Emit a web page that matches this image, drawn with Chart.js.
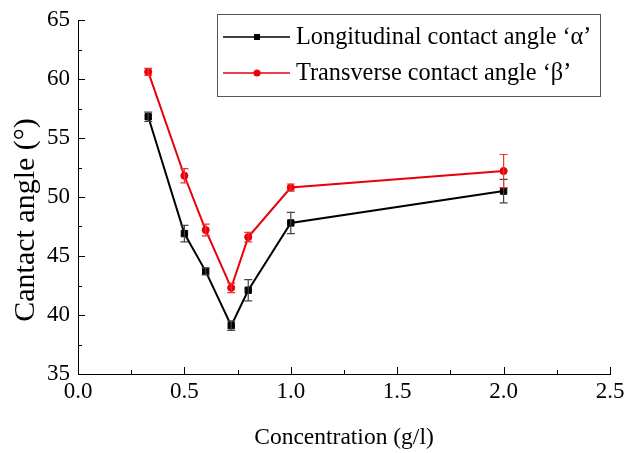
<!DOCTYPE html>
<html>
<head>
<meta charset="utf-8">
<script src="https://cdn.jsdelivr.net/npm/chart.js@4"></script>
<style>
  body { margin: 0; background: #fff; }
  #wrap { width: 624px; height: 453px; }
</style>
</head>
<body>
<div id="wrap"><canvas id="angleChart" width="624" height="453"></canvas></div>
<script>
// data
const concentration = [0.33, 0.5, 0.6, 0.72, 0.8, 1.0, 2.0];
const alphaAngle = [56.8, 46.9, 43.7, 39.1, 42.1, 47.8, 50.5];
const alphaErr = [0.4, 0.7, 0.3, 0.4, 0.9, 0.9, 1.0];
const betaAngle = [60.6, 51.8, 47.2, 42.3, 46.6, 50.8, 52.2];
const betaErr = [0.3, 0.6, 0.5, 0.4, 0.4, 0.3, 1.4];
const xTicks = [0, 0.5, 1.0, 1.5, 2.0, 2.5];
const yTicks = [35, 40, 45, 50, 55, 60, 65];
const yTitle = "Cantact angle (\u00b0)";

const serif = "'Liberation Serif', 'Times New Roman', serif";

function toPoints(xs, ys, errs) {
  return xs.map((x, i) => ({ x: x, y: ys[i], err: errs[i] }));
}

// error bars drawn from the data through the scales
const errorBars = {
  id: "errorBars",
  afterDatasetsDraw(chart) {
    const ctx = chart.ctx;
    const xs = chart.scales.x;
    const ys = chart.scales.y;
    chart.data.datasets.forEach((ds) => {
      ctx.save();
      ctx.strokeStyle = ds.errColor;
      ctx.lineWidth = 1.2;
      ds.data.forEach((p) => {
        const px = xs.getPixelForValue(p.x);
        const top = ys.getPixelForValue(p.y + p.err);
        const bot = ys.getPixelForValue(p.y - p.err);
        ctx.beginPath();
        ctx.moveTo(px, top);
        ctx.lineTo(px, bot);
        ctx.moveTo(px - 4, top);
        ctx.lineTo(px + 4, top);
        ctx.moveTo(px - 4, bot);
        ctx.lineTo(px + 4, bot);
        ctx.stroke();
      });
      ctx.restore();
    });
  },
};

// inward major + minor ticks, plus the rotated y title
const axisExtras = {
  id: "axisExtras",
  afterDraw(chart) {
    const ctx = chart.ctx;
    const xs = chart.scales.x;
    const ys = chart.scales.y;
    const a = chart.chartArea;
    ctx.save();
    ctx.strokeStyle = "#000";
    ctx.lineWidth = 1;
    ctx.beginPath();
    for (let v = 0; v <= 2.5001; v += 0.25) {
      const px = Math.round(xs.getPixelForValue(v)) + 0.5;
      const major = Math.abs(v * 2 - Math.round(v * 2)) < 0.001;
      ctx.moveTo(px, a.bottom);
      ctx.lineTo(px, a.bottom - (major ? 7 : 4));
    }
    for (let v = 35; v <= 65.001; v += 2.5) {
      const py = Math.round(ys.getPixelForValue(v)) + 0.5;
      const major = v % 5 === 0;
      ctx.moveTo(a.left, py);
      ctx.lineTo(a.left + (major ? 7 : 4), py);
    }
    ctx.stroke();

    ctx.translate(26, 220);
    ctx.rotate(-Math.PI / 2);
    ctx.font = "30px " + serif;
    ctx.fillStyle = "#000";
    ctx.textAlign = "center";
    ctx.textBaseline = "middle";
    ctx.fillText(yTitle, 0, 0);
    ctx.restore();
  },
};

// boxed legend at the top right of the plot
const boxLegend = {
  id: "boxLegend",
  afterDraw(chart) {
    const ctx = chart.ctx;
    const left = 217, top = 14, w = 383, h = 82;
    ctx.save();
    ctx.strokeStyle = "#555";
    ctx.lineWidth = 1;
    ctx.fillStyle = "#fff";
    ctx.fillRect(left, top, w, h);
    ctx.strokeRect(left + 0.5, top + 0.5, w, h);
    ctx.font = "24.3px " + serif;
    ctx.textBaseline = "middle";
    chart.data.datasets.forEach((ds, i) => {
      const y = top + 23 + i * 36;
      ctx.strokeStyle = ds.borderColor;
      ctx.lineWidth = 1.5;
      ctx.beginPath();
      ctx.moveTo(left + 6, y);
      ctx.lineTo(left + 73, y);
      ctx.stroke();
      ctx.fillStyle = ds.borderColor;
      if (ds.pointStyle === "rect") {
        ctx.fillRect(left + 37, y - 3, 6, 6);
      } else {
        ctx.beginPath();
        ctx.arc(left + 40, y, 3.5, 0, Math.PI * 2);
        ctx.fill();
      }
      ctx.fillStyle = "#000";
      ctx.fillText(ds.label, left + 79, y + 1);
    });
    ctx.restore();
  },
};

const chart = new Chart(document.getElementById("angleChart"), {
  type: "scatter",
  data: {
    datasets: [
      {
        label: "Longitudinal contact angle \u2018\u03b1\u2019",
        data: toPoints(concentration, alphaAngle, alphaErr),
        showLine: true,
        borderColor: "#000",
        backgroundColor: "#000",
        errColor: "#444",
        borderWidth: 2,
        pointBorderWidth: 1,
        pointStyle: "rect",
        pointRadius: 4.5,
        pointHoverRadius: 4.5,
      },
      {
        label: "Transverse contact angle \u2018\u03b2\u2019",
        data: toPoints(concentration, betaAngle, betaErr),
        showLine: true,
        borderColor: "#e8000b",
        backgroundColor: "#e8000b",
        errColor: "#e33",
        borderWidth: 2,
        pointBorderWidth: 1,
        pointStyle: "circle",
        pointRadius: 3.6,
        pointHoverRadius: 3.6,
      },
    ],
  },
  options: {
    responsive: false,
    animation: false,
    layout: { padding: { top: 20, right: 14, left: 0, bottom: 0 } },
    plugins: {
      legend: { display: false },
      tooltip: { enabled: false },
    },
    scales: {
      x: {
        type: "linear",
        min: 0,
        max: 2.5,
        afterBuildTicks: (s) => { s.ticks = xTicks.map((v) => ({ value: v })); },
        afterFit: (s) => { s.height = 79; s.paddingLeft = 0; s.paddingRight = 0; },
        grid: { display: false, drawTicks: false },
        border: { color: "#000", width: 1 },
        ticks: {
          color: "#000",
          padding: 4,
          font: { family: serif, size: 23 },
          callback: (v) => v.toFixed(1),
        },
        title: {
          display: true,
          text: "Concentration (g/l)",
          color: "#000",
          font: { family: serif, size: 23.5 },
          padding: { top: 15, bottom: 1 },
        },
      },
      y: {
        min: 35,
        max: 65,
        afterBuildTicks: (s) => { s.ticks = yTicks.map((v) => ({ value: v })); },
        afterFit: (s) => { s.width = 78; s.paddingTop = 0; s.paddingBottom = 0; },
        grid: { display: false, drawTicks: false },
        border: { color: "#000", width: 1 },
        ticks: {
          color: "#000",
          padding: 8,
          font: { family: serif, size: 23 },
        },
        title: { display: false },
      },
    },
  },
  plugins: [errorBars, axisExtras, boxLegend],
});
</script>
</body>
</html>
